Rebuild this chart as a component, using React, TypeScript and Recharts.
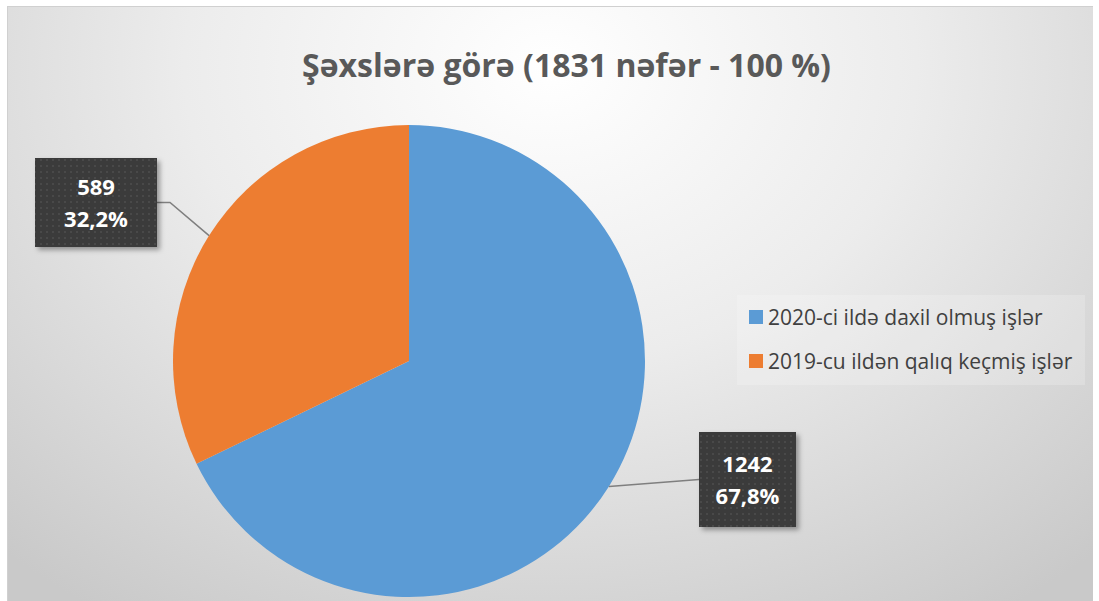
import { Cell, Legend, Pie, PieChart } from "recharts";

const categories = ["2020-ci ildə daxil olmuş işlər", "2019-cu ildən qalıq keçmiş işlər"];
const counts = [1242, 589];
const colors = ["#5b9bd5", "#ed7d31"];
const title = "Şəxslərə görə (1831 nəfər - 100 %)";

const data = categories.map((name, i) => ({ name, value: counts[i] }));

// label box placement relative to the pie centre (style only)
const labelBoxes = [
  { x: 290, y: 71, w: 97, h: 95, side: "left" },
  { x: -374, y: -203, w: 122, h: 89, side: "right" },
];

const RAD = Math.PI / 180;

const renderLabel = (props: any) => {
  const { cx, cy, midAngle, outerRadius, index, value, percent } = props;
  const box = labelBoxes[index];
  const bx = cx + box.x;
  const by = cy + box.y;
  const my = by + box.h / 2;
  const ex = cx + outerRadius * Math.cos(-midAngle * RAD);
  const ey = cy + outerRadius * Math.sin(-midAngle * RAD);
  const pct = (percent * 100).toFixed(1).replace(".", ",") + "%";
  const points =
    box.side === "right"
      ? `${ex},${ey} ${bx + box.w + 13},${my} ${bx + box.w},${my}`
      : `${ex},${ey} ${bx},${my}`;
  return (
    <g>
      <polyline points={points} fill="none" stroke="#7f7f7f" strokeWidth={1.5} />
      <rect x={bx} y={by} width={box.w} height={box.h} fill="url(#dots)" filter="url(#boxShadow)" />
      <text
        x={bx + box.w / 2}
        y={my - 8}
        textAnchor="middle"
        fill="#ffffff"
        fontSize={22}
        fontWeight={700}
        fontFamily="'Open Sans', sans-serif"
      >
        {value}
      </text>
      <text
        x={bx + box.w / 2}
        y={my + 24}
        textAnchor="middle"
        fill="#ffffff"
        fontSize={22}
        fontWeight={700}
        fontFamily="'Open Sans', sans-serif"
      >
        {pct}
      </text>
    </g>
  );
};

const LegendContent = () => (
  <div
    style={{
      width: 348,
      height: 90,
      background: "rgba(255,255,255,0.2)",
      fontFamily: "'Open Sans', sans-serif",
      fontSize: 21,
      color: "#404040",
      boxSizing: "border-box",
      paddingLeft: 12,
      paddingTop: 0,
    }}
  >
    {categories.map((c, i) => (
      <div key={c} style={{ display: "flex", alignItems: "center", height: 44, whiteSpace: "nowrap" }}>
        <span style={{ width: 14, height: 14, background: colors[i], marginRight: 5, display: "inline-block" }} />
        <span>{c}</span>
      </div>
    ))}
  </div>
);

const App = () => {
  return (
    <div style={{ position: "absolute", left: 0, top: 0, width: 1099, height: 601, background: "#ffffff" }}>
      <style>{`.recharts-pie-sectors { filter: drop-shadow(0 0 7px rgba(0,0,0,0.35)); }`}</style>
      <div
        style={{
          position: "absolute",
          left: 7,
          top: 6,
          width: 1085,
          height: 595,
          borderTop: "1px solid #d0d0d0",
          borderLeft: "1px solid #d0d0d0",
          background: "radial-gradient(ellipse 75% 110% at 50% 10%, #ffffff 0%, #ececec 45%, #c9c9c9 100%)",
        }}
      >
        <div
          style={{
            position: "absolute",
            left: 16,
            top: 36,
            width: 1085,
            textAlign: "center",
            fontFamily: "'Open Sans', sans-serif",
            fontWeight: 700,
            fontSize: 32,
            color: "#595959",
          }}
        >
          {title}
        </div>
        <PieChart
          width={1085}
          height={595}
          margin={{ top: 0, right: 0, bottom: 0, left: 0 }}
          style={{ position: "absolute", left: 0, top: 0 }}
        >
          <defs>
            <pattern id="dots" width="6" height="6" patternUnits="userSpaceOnUse">
              <rect width="6" height="6" fill="#3a3a3a" />
              <circle cx="3" cy="3" r="1" fill="#4e4e4e" />
            </pattern>
            <filter id="boxShadow" x="-20%" y="-20%" width="140%" height="140%">
              <feDropShadow dx="3" dy="3" stdDeviation="2.5" floodColor="#000" floodOpacity="0.35" />
            </filter>
          </defs>
          <Pie
            data={data}
            dataKey="value"
            nameKey="name"
            cx={401}
            cy={354}
            outerRadius={236}
            startAngle={90}
            endAngle={-270}
            stroke="none"
            label={renderLabel}
            labelLine={false}
            isAnimationActive={false}
          >
            {data.map((d, i) => (
              <Cell key={d.name} fill={colors[i]} />
            ))}
          </Pie>
          <Legend
            content={<LegendContent />}
            wrapperStyle={{ position: "absolute", left: 729, top: 288, width: 348, height: 90 }}
          />
        </PieChart>
      </div>
    </div>
  );
};

export default App;
